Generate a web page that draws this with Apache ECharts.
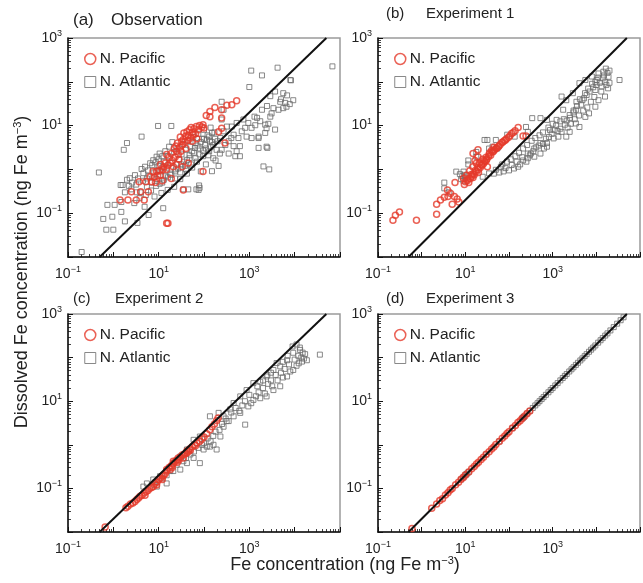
<!DOCTYPE html>
<html>
<head>
<meta charset="utf-8">
<script src="https://cdn.jsdelivr.net/npm/echarts@6/dist/echarts.min.js"></script>
<style>
  html, body { margin: 0; padding: 0; background: #fff; }
  #chart { width: 643px; height: 583px; }
</style>
</head>
<body>
<div id="chart"></div>
<script>
// Dissolved Fe vs total Fe: observation + 3 experiments, log-log scatter

const panelLabels = ['(a)', '(b)', '(c)', '(d)'];
const panelTitles = ['Observation', 'Experiment 1', 'Experiment 2', 'Experiment 3'];
const seriesNames = ['N. Pacific', 'N. Atlantic'];
const labelExponents = [-1, 1, 3];

// dissolved = 2% of total Fe
const refLine = [[0.5, 0.01], [50000, 1000]];

/* ---------- (a) Observation ---------- */
const obsPacific = [
  [1.4,0.2],[2.1,0.2],[3.2,0.2],[4.8,0.2],[2.5,0.31],[4,0.31],[5.9,0.31],
  [3.7,0.52],[5.2,0.52],[7,0.52],[8.5,0.5],[6.5,0.68],[8,0.66],[9.5,0.72],[11,0.74],
  [7.5,0.9],[9,0.91],[10.5,0.95],[12.5,1.0],[13,1.15],[15,1.0],[11,1.3],[14,1.4],
  [16,1.25],[18,1.4],[20,1.6],[17,1.9],[19,2.3],[21,1.15],[23,1.9],[25,2.6],[22,3.0],
  [27,2.2],[29,3.2],[31,2.6],[26,4.0],[33,3.6],[35,4.8],[30,5.5],[38,4.2],[40,5.8],
  [36,6.8],[42,7.2],[45,6.0],[48,8.0],[50,5.2],[55,7.0],[52,9.0],[60,8.5],[65,6.5],
  [68,9.5],[75,8.0],[80,10],[90,9.3],[100,8.8],[95,10.5],[19,0.62],[33,1.15],[15,2.2],
  [12,0.55],[25,1.3],[40,3.0],[55,4.4],[70,5.0],[45,1.4],[35,0.34],[16,0.059],[15,0.059],
  [95,0.9],[112,17],[135,16],[135,21],[174,26],[245,15],[245,23],[320,29],[410,30],
  [525,37],[210,7.2],[245,8.7],[290,4.0],[28,1.7],[24,3.4],[32,4.4],[44,4.6],[58,6.2]
];
const obsAtlantic = [
  [0.2,0.013],[0.48,0.85],[0.6,0.074],[0.95,0.083],[0.7,0.042],[1.0,0.042],[0.74,0.155],
  [1.07,0.155],[1.5,0.18],[1.5,0.107],[1.8,0.065],[1.45,0.44],[1.7,2.8],[2.0,4.0],[4.2,5.6],
  [9.7,9.8],[19,9.8],[12.6,0.13],[3.4,0.06],[6,0.091],[76,0.34],[80,0.38],[78,0.43],
  [224,2.3],[1100,180],[1900,140],[4200,210],[8300,108],[1000,76],[68000,225],[2050,1.17],
  [2750,1.0],[150,0.91],
  [1.6,0.44],[2.0,0.58],[2.3,0.63],[3.0,0.74],[4.2,1.02],[5.0,1.15],[6.5,1.38],[7.6,1.62],
  [9.0,1.95],[10.5,2.3],[2.9,0.17],[4.9,0.14],[8.1,0.24],[11.5,0.29],[15.8,0.34],[22,0.4],
  [35,0.35],[45,0.35],[68,0.35],[1.8,0.3],[2.5,0.35],[3.2,0.45],[4,0.3],[4.5,0.55],
  [5.5,0.4],[6,0.7],[7,0.5],[8,0.85],[9,0.6],[10,1.2],[11,0.9],[12,0.5],[13,1.5],[14,0.7],
  [15,1.1],[16,2.0],[18,0.8],[20,1.4],[22,2.5],[24,1.0],[26,3.0],[28,1.7],[30,0.6],
  [32,2.2],[35,3.8],[38,1.2],[40,2.8],[42,0.8],[45,4.5],[48,1.8],[50,3.3],[55,1.1],
  [58,5.5],[60,2.4],[65,4.0],[70,1.5],[75,6.5],[80,3.0],[85,0.9],[90,5.0],[95,2.0],
  [100,8.0],[105,3.6],[110,1.3],[120,6.0],[130,2.6],[140,9.0],[150,4.2],[160,1.8],[170,7.0],
  [3700,60],[2900,47],[6800,49],[4800,35],[7800,31],[3400,25],[2450,28],[1900,23],
  [4400,23],[5600,25],[2900,16],[1480,15],[1740,12.6],[2240,10.5],[1350,10.2],[1120,8.9],
  [950,11.5],[810,8.9],[680,7.4],[525,11.5],[740,13.8],[450,6.2],[575,5.2],[400,5.2],
  [350,4.4],[295,3.6],[450,3.4],[525,2.6],[620,3.4],[870,5.6],[1120,5.2],[1600,5.2],
  [2630,11],[3700,8.1],[2240,6.8],[1600,3.1],[2500,3.1],[620,2.0],[490,2.0],[350,2.3],
  [245,2.8],[190,2.8],[160,3.6],[135,4.4],[230,5.2],[270,7.4],[320,9.5],[410,9.5],
  [245,13.8],[270,23],[245,35],[2400,8.7],[1600,5.6],[2400,3.3],[9300,38],[6600,27],
  [5600,55],[8000,110],[1300,16],[3100,19],[5000,40],[6200,33],[180,1.6],[210,1.2],
  [2.6,0.5],[3.5,0.62],[4.6,0.82],[5.8,0.95],[7.2,1.25],[8.6,1.45],[10,1.7],[12,2.0],
  [14,2.6],[17,3.3],[20,4.2],[3.8,0.22],[5.2,0.26],[6.8,0.33],[8.8,0.42],[10.5,0.47],
  [13,0.58],[16,0.66],[19,0.75],[23,0.9],[27,1.05],[31,1.3],[36,1.5],[42,1.65],[48,2.1],
  [55,2.6],[63,3.1],[72,3.5],[85,4.2],[100,5.0],[115,4.8],[130,5.6],[150,6.8],[175,5.0],
  [200,4.4],[23,0.62],[30,0.85],[40,1.0],[52,1.3],[65,1.8],[80,2.2],[95,2.7],[110,3.0],
  [125,2.1],[140,3.2],[5.5,0.62],[7.8,0.68],[9.5,0.95],[12,1.1],[2.2,0.42],[3.3,0.3]
];

/* ---------- (b) Experiment 1 ---------- */
const exp1Pacific = [
  [0.22,0.069],[0.25,0.09],[0.31,0.107],[0.76,0.069],[2.2,0.095],
  [2.2,0.16],[2.7,0.2],[3.3,0.23],[4,0.24],[4.6,0.28],[3.9,0.34],[5.6,0.24],[6.5,0.21],
  [5,0.16],[7.1,0.18],[5.8,0.5],[9.1,0.63],[10.7,0.74],[12.6,0.93],[14.8,1.15],[17.8,1.38],
  [16.6,1.6],[19.5,1.95],[21,1.4],[25,1.7],[30,1.9],[35,2.2],[42,2.5],[50,3.0],[59,3.4],
  [69,4.1],[83,4.7],[98,5.4],[115,6.6],[138,7.6],[162,9.1],[210,5.8],[245,5.8],[15,2.3],
  [19.5,2.8],[32,1.15],[9.5,0.45],[11,0.55],[12,0.5],[13,0.62],[14,0.7],[15,0.8],
  [16,0.75],[18,0.9],[20,1.0],[22,1.1],[24,1.25],[26,1.35],[28,1.5],[10,0.52],[11.5,0.6],
  [13.5,0.75],[17,0.95],[19,1.1],[23,1.3],[27,1.6],[31,1.7],[34,1.95],[38,2.1],[44,2.6],
  [47,2.8],[53,3.1],[57,3.3],[63,3.7],[72,4.2],[78,4.5],[88,5.0],[105,5.9],[125,7.0],
  [40,2.7],[45,3.2],[36,2.4],[30,1.6],[20,0.85],[15,0.65]
];
const exp1Atlantic = [
  [3.3,0.5],[3.3,0.37],[6.2,0.89],[9.1,0.89],[11.7,1.3],[11.7,1.6],[17.8,2.5],[17.8,1.95],
  [27.5,4.7],[32,4.7],[42,3.3],[50,4.7],[54,3.0],[35,3.0],[91,6.2],[135,5.6],[245,9.3],
  [340,14.8],[525,14.8],[740,13.5],[270,7.2],[8,0.6],[8.5,0.7],[9,0.55],[10,0.65],
  [9.5,0.75],[7.5,0.78],[4.3,0.3],[25,0.68],[35,0.81],[50,0.98],[65,1.15],[83,1.07],
  [115,1.26],[162,1.15],[210,1.6],[270,1.8],[316,2.3],[380,1.95],[525,2.3],[630,3.0],
  [740,4.0],[1050,5.1],[1350,5.6],[1600,7.2],[2050,5.6],[2450,7.2],[3400,11.2],[4100,9.3],
  [5600,15.8],[6800,19],[9500,27],[11200,38],[15800,46],[9500,65],[13200,78],[18600,71],
  [10200,110],[11200,155],[7900,132],[5600,110],[4100,93],[2900,55],[2050,38],[1600,46],
  [4800,38],[3400,23],[2450,17.4],[1740,23],[1230,13.5],[870,7.9],[740,3.3],[525,4.0],
  [380,3.0],[270,2.3],[34000,110],
  [3000,20],[3600,28],[4500,30],[5200,42],[6000,50],[7000,60],[8500,75],[10000,85],
  [12000,95],[14000,120],[16000,100],[19000,130],[17000,85],[20000,95],[13000,60],
  [9000,45],[7500,35],[6200,26],[5000,22],[4000,17],[3200,14],[2600,11],[2200,9],
  [1900,10.5],[1500,8.5],[1300,7.5],[1100,8],[950,6.5],[820,5.5],[700,5],[600,3.8],
  [480,3.5],[420,3.2],[360,2.6],[300,2.1],[250,1.5],[200,1.9],[180,1.3],[150,1.5],
  [130,1.05],[100,0.95],[75,0.9],[60,0.85],[45,0.8],[70,1.3],[90,1.5],[110,1.7],
  [140,2.0],[170,2.4],[210,3.0],[260,3.6],[330,4.5],[400,5.2],[500,6.0],[600,7.0],
  [800,9.0],[1000,11],[1200,10],[1500,12.5],[1800,14],[2100,13],[2500,15],[3000,22],
  [3500,35],[4200,40],[5500,55],[6500,70],[8000,90],[9500,100],[11000,125],[15000,140],
  [18000,160],[20000,180],[16500,200],[14500,170]
];

/* ---------- (c) Experiment 2 ---------- */
const exp2Pacific = [
  [0.66,0.013],[1.9,0.036],[2.1,0.039],[2.4,0.044],[2.7,0.046],[3.0,0.05],[3.3,0.056],
  [3.6,0.06],[3.9,0.066],[4.3,0.07],[4.8,0.078],[5.3,0.085],[5.8,0.09],[6.3,0.1],[7,0.105],
  [7.6,0.11],[8.3,0.13],[9.2,0.14],[10,0.16],[11,0.17],[12,0.19],[13,0.2],[14,0.22],
  [15,0.25],[15,0.27],[17,0.3],[19,0.33],[21,0.37],[21,0.42],[23,0.41],[25,0.45],[27,0.5],
  [30,0.52],[33,0.58],[36,0.6],[42,0.65],[42,0.72],[48,0.8],[55,0.9],[62,1.0],[70,1.1],
  [81,1.2],[90,1.35],[100,1.5],[115,1.8],[135,2.2],[150,2.6],[170,3.0],[190,3.6],[205,4.1],
  [12,0.16],[18,0.27],[26,0.4],[35,0.5],[50,0.75],[65,0.95],[9,0.12],[5,0.07],[20,0.3],
  [28,0.45],[38,0.62],[45,0.7]
];
const exp2Atlantic = [
  [4.6,0.11],[5.5,0.13],[7.6,0.16],[9.1,0.11],[10.7,0.19],[15,0.13],[21,0.25],[30,0.27],
  [42,0.38],[59,0.5],[81,0.38],[98,0.78],[115,0.91],[162,1.0],[230,1.55],[270,2.6],
  [316,3.5],[450,4.5],[630,5.4],[810,2.9],[950,7.6],[1230,10.7],[1740,11.7],[2400,12.9],
  [3400,18],[4800,22],[6800,37],[9300,52],[12300,74],[14500,81],[18600,87],[36000,117],
  [13200,150],[9300,129],[6800,87],[4800,63],[3400,52],[2400,37],[1740,28],[1230,26],
  [870,18],[630,12.9],[450,9.1],[380,6.5],[270,4.5],[210,5.4],[135,4.5],[135,0.91],
  [190,0.78],[81,1.55],[59,1.3],[42,0.78],[30,0.54],[21,0.38],[15,0.2],
  [1100,9],[1400,13],[1600,16],[2000,20],[2200,15],[2600,25],[3000,30],[3200,22],
  [3800,40],[4200,30],[5000,45],[5500,35],[6000,55],[7500,70],[8000,48],[10000,90],
  [11000,65],[12000,110],[14000,100],[16000,95],[15000,130],[17000,120],[13000,170],
  [11000,200],[9000,180],[7000,110],[5500,80],[4000,75],[3000,45],[2500,40],[2000,30],
  [1500,22],[1000,14],[800,10],[700,8],[600,6],[500,7],[400,5.5],[350,3.5],[300,4],
  [250,3],[220,2.2],[180,2],[160,1.6],[140,1.2],[120,1.4],[100,1.1],[90,1.0],[75,0.85],
  [60,0.7],[50,0.6],[40,0.5],[35,0.42],[25,0.35],[18,0.25],[12,0.17],[8,0.12],[8.5,0.14]
];

/* ---------- (d) Experiment 3 ---------- */
const exp3Pacific = [
  [0.6,0.012],[1.7,0.035],[2.2,0.044],[2.6,0.053],[3,0.058],[3.5,0.071],[4,0.079],
  [4.5,0.092],[5,0.099],[6,0.121],[7,0.138],[8,0.162],[9,0.178],[10,0.203],[12,0.238],
  [14,0.283],[16,0.318],[18,0.362],[20,0.397],[23,0.463],[26,0.515],[30,0.604],[35,0.695],
  [40,0.806],[45,0.893],[50,1.01],[60,1.19],[70,1.41],[80,1.59],[90,1.82],[100,1.98],
  [120,2.42],[140,2.78],[160,3.23],[180,3.58],[200,4.03],[230,4.58],[260,5.22],[300,5.95]
];
const exp3Atlantic = [
  [8,0.16],[9,0.18],[10,0.2],[10.5,0.21],[11,0.22],[12,0.24],[30,0.6],[60,1.2],[120,2.4],
  [200,4.0],[210,4.2],[215,4.3],[220,4.4],[260,5.2],[300,6.0],[350,7.0],[400,8.0],[450,9.0],
  [500,10],[560,11.2],[620,12.4],[700,14],[800,16],[900,18],[1000,20],[1150,23],[1300,26],
  [1500,30],[1700,34],[1900,38],[2100,42],[2400,48],[2700,54],[3000,60],[3400,68],[3800,76],
  [4300,86],[4800,96],[5400,108],[6000,120],[6800,136],[7600,152],[8500,170],[9500,190],
  [11000,220],[12500,250],[14000,280],[16000,320],[18000,360],[21000,420],[25000,500],
  [30000,600],[36000,720],[42000,840]
];

const pacificSets = [obsPacific, exp1Pacific, exp2Pacific, exp3Pacific];
const atlanticSets = [obsAtlantic, exp1Atlantic, exp2Atlantic, exp3Atlantic];

const RED = '#e5392a';
const GRAY = '#6c6c6c';
const FONT = 'Liberation Sans, Arial, sans-serif';

const grids = [
  { left: 68, top: 38, width: 272, height: 219 },
  { left: 378, top: 38, width: 272, height: 219 },
  { left: 68, top: 314, width: 272, height: 218 },
  { left: 378, top: 314, width: 272, height: 218 }
];

function powLabel(v) {
  const e = Math.round(Math.log10(v));
  if (labelExponents.indexOf(e) < 0) return '';
  return '{b|10}{s|' + (e < 0 ? '\u2212' : '') + Math.abs(e) + '}';
}

const tickRich = {
  b: { fontSize: 14, fontFamily: FONT, color: '#222' },
  s: { fontSize: 9, fontFamily: FONT, color: '#222', padding: [0, 0, 9, 0] }
};

function logAxis(i, min, max, isX) {
  return {
    type: 'log', logBase: 10, gridIndex: i, min, max, interval: 1,
    axisLine: { show: true, onZero: false, lineStyle: { color: '#111', width: 1.5 } },
    axisTick: { show: true, inside: true, length: 5, lineStyle: { color: '#111', width: 1 } },
    minorTick: { show: true, splitNumber: 9, length: 3, lineStyle: { color: '#111', width: 0.8 } },
    splitLine: { show: false },
    minorSplitLine: { show: false },
    axisLabel: { formatter: powLabel, rich: tickRich, margin: isX ? 8 : 6, showMinLabel: true, showMaxLabel: true }
  };
}

const titleRich = {
  n: { fontSize: 18, fontFamily: FONT, fill: '#222' },
  s: { fontSize: 11, fontFamily: FONT, fill: '#222', padding: [0, 0, 9, 0] }
};

const graphic = [];
grids.forEach((g, i) => {
  const ty = i < 2 ? (i === 0 ? 12 : 6) : 291;
  const fs = i === 0 ? 17 : 15;
  graphic.push({ type: 'text', left: g.left + (i % 2 ? 8 : 5), top: ty,
    style: { text: panelLabels[i], font: fs + 'px ' + FONT, fill: '#222' } });
  graphic.push({ type: 'text', left: g.left + (i === 0 ? 43 : (i % 2 ? 48 : 47)), top: ty,
    style: { text: panelTitles[i], font: fs + 'px ' + FONT, fill: '#222' } });
});
graphic.push({
  type: 'text', x: 22, y: 272, rotation: Math.PI / 2,
  style: {
    text: '{n|Dissolved Fe concentration (ng Fe m}{s|\u22123}{n|)}',
    align: 'center', verticalAlign: 'middle', rich: titleRich
  }
});
graphic.push({
  type: 'text', x: 345, y: 565,
  style: {
    text: '{n|Fe concentration (ng Fe m}{s|\u22123}{n|)}',
    align: 'center', verticalAlign: 'middle', rich: titleRich
  }
});

const series = [];
grids.forEach((g, i) => {
  series.push({
    type: 'scatter', name: seriesNames[1], xAxisIndex: i, yAxisIndex: i,
    data: atlanticSets[i], symbol: 'rect', symbolSize: 5, z: 2,
    itemStyle: { color: 'rgba(0,0,0,0)', borderColor: GRAY, borderWidth: 1 }
  });
  series.push({
    type: 'scatter', name: seriesNames[0], xAxisIndex: i, yAxisIndex: i,
    data: pacificSets[i], symbol: 'circle', symbolSize: 6, z: 3,
    itemStyle: { color: 'rgba(0,0,0,0)', borderColor: RED, borderWidth: 1.5 }
  });
  series.push({
    type: 'line', xAxisIndex: i, yAxisIndex: i, data: refLine,
    showSymbol: false, symbol: 'none', z: 4,
    lineStyle: { color: '#111', width: 2 }
  });
});

const legends = grids.map((g, i) => ({
  orient: 'vertical', left: g.left + 11, top: g.top + 8, itemGap: 7,
  itemWidth: 11, itemHeight: 11, selectedMode: false,
  textStyle: { fontSize: 15.5, fontFamily: FONT, color: '#222', padding: [0, 0, 0, -1] },
  data: [
    { name: seriesNames[0], icon: 'circle', itemStyle: { color: 'rgba(0,0,0,0)', borderColor: RED, borderWidth: 1.5 } },
    { name: seriesNames[1], icon: 'rect', itemStyle: { color: 'rgba(0,0,0,0)', borderColor: GRAY, borderWidth: 1 } }
  ]
}));

const chart = echarts.init(document.getElementById('chart'), null, { renderer: 'canvas' });
chart.setOption({
  animation: false,
  backgroundColor: '#fff',
  grid: grids.map(g => Object.assign({ show: true, borderColor: '#9a9a9a', borderWidth: 1.5, backgroundColor: 'transparent' }, g)),
  xAxis: grids.map((g, i) => logAxis(i, 0.1, 100000, true)),
  yAxis: grids.map((g, i) => logAxis(i, 0.01, 1000, false)),
  legend: legends,
  graphic,
  series
});
</script>
</body>
</html>
